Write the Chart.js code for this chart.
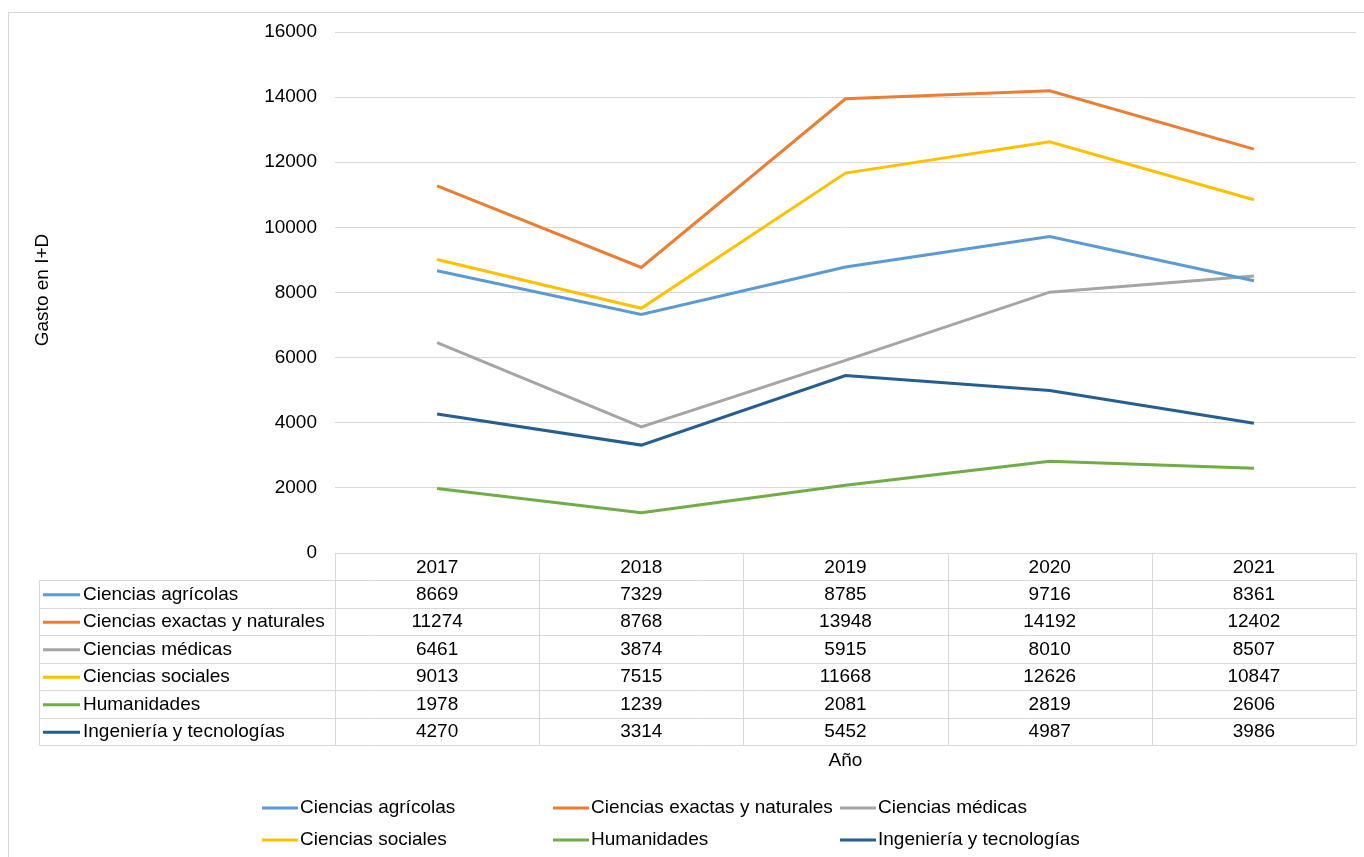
<!DOCTYPE html>
<html>
<head>
<meta charset="utf-8">
<script src="https://cdn.jsdelivr.net/npm/chart.js@4"></script>
<style>
  html, body { margin: 0; padding: 0; background: #fff; }
  #wrap { width: 1364px; height: 857px; }
</style>
</head>
<body>
<div id="wrap"><canvas id="chart" width="1364" height="857"></canvas></div>
<script>
const years = ['2017', '2018', '2019', '2020', '2021'];
const seriesNames = ['Ciencias agrícolas', 'Ciencias exactas y naturales', 'Ciencias médicas',
                     'Ciencias sociales', 'Humanidades', 'Ingeniería y tecnologías'];
const agricolas  = [8669, 7329, 8785, 9716, 8361];
const exactas    = [11274, 8768, 13948, 14192, 12402];
const medicas    = [6461, 3874, 5915, 8010, 8507];
const sociales   = [9013, 7515, 11668, 12626, 10847];
const humanidades = [1978, 1239, 2081, 2819, 2606];
const ingenieria = [4270, 3314, 5452, 4987, 3986];
const yTicks = [0, 2000, 4000, 6000, 8000, 10000, 12000, 14000, 16000];

const seriesValues = [agricolas, exactas, medicas, sociales, humanidades, ingenieria];
const colors = ['#5B9BD5', '#ED7D31', '#A5A5A5', '#FFC000', '#70AD47', '#255E91'];

const FONT = '"Liberation Sans", Arial, sans-serif';
const FS = 19;
const GRID = '#d9d9d9';

// Draws the outer frame, axis titles, data table and bottom legend
const tablePlugin = {
    id: 'dataTable',
    afterDraw(chart) {
        const ctx = chart.ctx;
        const area = chart.chartArea;
        const x = chart.scales.x;
        const colW = (area.right - area.left) / years.length;
        const headTop = area.bottom;
        const headH = 27;
        const rowH = 27.5;
        const rowsTop = headTop + headH;
        const tableLeft = 39;
        const tableBottom = rowsTop + rowH * seriesNames.length;

        ctx.save();
        // outer frame
        ctx.strokeStyle = GRID;
        ctx.lineWidth = 1;
        ctx.strokeRect(8.5, 12.5, 1400, 900);

        // table grid
        ctx.beginPath();
        ctx.moveTo(area.left, headTop + 0.5);
        ctx.lineTo(area.right, headTop + 0.5);
        for (let r = 0; r <= seriesNames.length; r++) {
            const yy = Math.round(rowsTop + r * rowH) + 0.5;
            ctx.moveTo(tableLeft, yy);
            ctx.lineTo(area.right, yy);
        }
        ctx.moveTo(tableLeft + 0.5, rowsTop);
        ctx.lineTo(tableLeft + 0.5, tableBottom);
        for (let c = 0; c <= years.length; c++) {
            const xx = Math.round(area.left + c * colW) + 0.5;
            ctx.moveTo(xx, headTop);
            ctx.lineTo(xx, tableBottom);
        }
        ctx.stroke();

        ctx.font = FS + 'px ' + FONT;
        ctx.fillStyle = '#000';
        ctx.textBaseline = 'middle';
        ctx.textAlign = 'center';
        years.forEach((yr, i) => {
            ctx.fillText(yr, x.getPixelForValue(i), headTop + headH / 2 + 1);
        });
        seriesNames.forEach((name, r) => {
            const cy = rowsTop + r * rowH + rowH / 2 + 1;
            ctx.strokeStyle = colors[r];
            ctx.lineWidth = 3;
            ctx.beginPath();
            ctx.moveTo(43, cy);
            ctx.lineTo(80, cy);
            ctx.stroke();
            ctx.textAlign = 'left';
            ctx.fillText(name, 83, cy);
            ctx.textAlign = 'center';
            seriesValues[r].forEach((v, i) => {
                ctx.fillText(String(v), x.getPixelForValue(i), cy);
            });
        });

        // axis titles
        ctx.fillText('Año', (area.left + area.right) / 2, 761);
        ctx.save();
        ctx.translate(43, 290);
        ctx.rotate(-Math.PI / 2);
        ctx.fillText('Gasto en I+D', 0, 0);
        ctx.restore();

        // bottom legend, 3 columns x 2 rows
        const legX = [262, 553, 840];
        const legY = [808, 840];
        seriesNames.forEach((name, i) => {
            const lx = legX[i % 3];
            const ly = legY[Math.floor(i / 3)];
            ctx.strokeStyle = colors[i];
            ctx.lineWidth = 3;
            ctx.beginPath();
            ctx.moveTo(lx, ly);
            ctx.lineTo(lx + 36, ly);
            ctx.stroke();
            ctx.textAlign = 'left';
            ctx.fillText(name, lx + 38, ly);
        });
        ctx.restore();
    }
};

const ctx = document.getElementById('chart').getContext('2d');
const chart = new Chart(ctx, {
    type: 'line',
    data: {
        labels: years,
        datasets: seriesNames.map((name, i) => ({
            label: name,
            data: seriesValues[i],
            borderColor: colors[i],
            backgroundColor: colors[i],
            borderWidth: 3,
            pointRadius: 0,
            tension: 0
        }))
    },
    options: {
        responsive: false,
        animation: false,
        layout: { padding: { left: 0, right: 8, top: 32, bottom: 304 } },
        scales: {
            x: { display: false, offset: true },
            y: {
                min: 0,
                max: 16000,
                afterBuildTicks(scale) { scale.ticks = yTicks.map(v => ({ value: v })); },
                afterFit(scale) { scale.width = 335; },
                border: { display: false },
                grid: { color: GRID, lineWidth: 1, drawTicks: false },
                ticks: {
                    padding: 18,
                    color: '#000',
                    font: { family: FONT, size: FS },
                    callback: v => String(v)
                }
            }
        },
        plugins: {
            legend: { display: false },
            tooltip: { enabled: false }
        }
    },
    plugins: [tablePlugin]
});
</script>
</body>
</html>
